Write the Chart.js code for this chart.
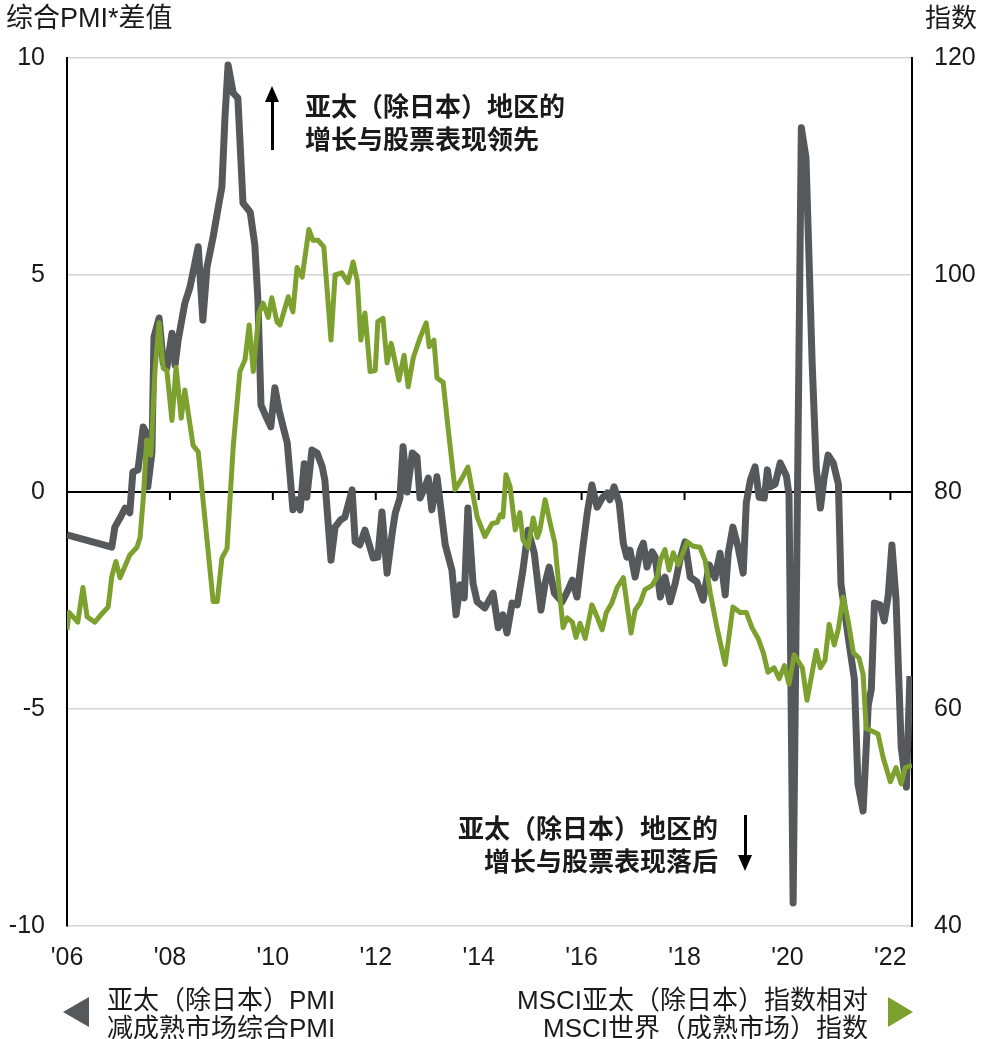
<!DOCTYPE html>
<html lang="zh-CN">
<head>
<meta charset="utf-8">
<title>亚太（除日本）PMI 与 MSCI 相对指数</title>
<script src="https://cdn.jsdelivr.net/npm/chart.js@4.4.1/dist/chart.umd.min.js"></script>
<style>
  html, body { margin: 0; padding: 0; background: #fff; }
  body {
    width: 983px; height: 1039px; position: relative; overflow: hidden;
    font-family: 'Liberation Sans', Arial, 'Noto Sans CJK SC', sans-serif;
    color: #1a1a1a;
  }
  #chart { position: absolute; left: 0; top: 0; }
  .txt { position: absolute; font-size: 26px; line-height: 32px; white-space: nowrap; }
  .note { font-weight: bold; line-height: 33px; }
  .shaft { position: absolute; width: 2.5px; background: #000; }
  .tri { position: absolute; width: 0; height: 0; }
</style>
</head>
<body>
<canvas id="chart" width="983" height="1039"></canvas>

<div class="txt" style="left:6px; top:2px; font-size:27px;">综合PMI*差值</div>
<div class="txt" style="right:6px; top:2px;">指数</div>

<!-- annotations -->
<div class="shaft" style="left:271px; top:100px; height:50px;"></div>
<div class="tri" style="left:265px; top:86px; border-left:7px solid transparent; border-right:7px solid transparent; border-bottom:16px solid #000;"></div>
<div class="txt note" style="left:305px; top:91px;">亚太（除日本）地区的<br>增长与股票表现领先</div>

<div class="shaft" style="left:744px; top:815px; height:42px;"></div>
<div class="tri" style="left:738px; top:855px; border-left:7px solid transparent; border-right:7px solid transparent; border-top:16px solid #000;"></div>
<div class="txt note" style="right:265px; top:813px; text-align:right;">亚太（除日本）地区的<br>增长与股票表现落后</div>

<!-- legend -->
<div class="tri" style="left:63px; top:997px; border-top:15px solid transparent; border-bottom:15px solid transparent; border-right:26px solid #55595c;"></div>
<div class="txt" style="left:107px; top:986px; line-height:28px;">亚太（除日本）PMI<br>减成熟市场综合PMI</div>
<div class="txt" style="right:115px; top:986px; line-height:28px; text-align:right;">MSCI亚太（除日本）指数相对<br>MSCI世界（成熟市场）指数</div>
<div class="tri" style="left:888px; top:997px; border-top:15px solid transparent; border-bottom:15px solid transparent; border-left:25px solid #7da12f;"></div>

<script>
// x ticks (years) and y ticks
const xTicks = [2006, 2008, 2010, 2012, 2014, 2016, 2018, 2020, 2022];
const leftTicks = [-10, -5, 0, 5, 10];
const rightTicks = [40, 60, 80, 100, 120];

// 亚太（除日本）PMI 减成熟市场综合PMI (left axis)
const pmiDates = [
  2006.00, 2006.87, 2006.93, 2007.03, 2007.13, 2007.22, 2007.28, 2007.38, 2007.48, 2007.54,
  2007.57, 2007.65, 2007.69, 2007.79, 2007.87, 2007.94, 2008.04, 2008.10, 2008.16, 2008.29,
  2008.39, 2008.55, 2008.64, 2008.72, 2008.84, 2008.92, 2009.01, 2009.07, 2009.13, 2009.23,
  2009.32, 2009.42, 2009.56, 2009.65, 2009.71, 2009.77, 2009.87, 2009.96, 2010.04, 2010.12,
  2010.20, 2010.28, 2010.33, 2010.39, 2010.47, 2010.53, 2010.61, 2010.66, 2010.76, 2010.86,
  2010.96, 2011.01, 2011.13, 2011.21, 2011.31, 2011.40, 2011.54, 2011.60, 2011.69, 2011.79,
  2011.95, 2012.04, 2012.12, 2012.22, 2012.32, 2012.38, 2012.47, 2012.53, 2012.61, 2012.71,
  2012.80, 2012.86, 2012.96, 2013.02, 2013.09, 2013.19, 2013.35, 2013.48, 2013.56, 2013.64,
  2013.72, 2013.79, 2013.89, 2013.97, 2014.12, 2014.28, 2014.38, 2014.47, 2014.55, 2014.65,
  2014.75, 2014.86, 2014.96, 2015.08, 2015.21, 2015.29, 2015.37, 2015.47, 2015.62, 2015.72,
  2015.82, 2015.91, 2016.01, 2016.11, 2016.20, 2016.30, 2016.40, 2016.50, 2016.55, 2016.63,
  2016.73, 2016.81, 2016.88, 2016.94, 2017.04, 2017.14, 2017.20, 2017.27, 2017.37, 2017.43,
  2017.53, 2017.62, 2017.72, 2017.82, 2017.91, 2018.01, 2018.11, 2018.24, 2018.36, 2018.48,
  2018.59, 2018.69, 2018.79, 2018.85, 2018.94, 2019.04, 2019.14, 2019.20, 2019.28, 2019.37,
  2019.45, 2019.55, 2019.61, 2019.66, 2019.76, 2019.86, 2019.98, 2020.03, 2020.11, 2020.27,
  2020.36, 2020.48, 2020.56, 2020.64, 2020.71, 2020.79, 2020.89, 2020.99, 2021.04, 2021.18,
  2021.30, 2021.37, 2021.47, 2021.57, 2021.63, 2021.69, 2021.80, 2021.88, 2021.96, 2022.03,
  2022.11, 2022.21, 2022.31, 2022.38
];
const pmiValues = [
  -0.99, -1.27, -0.81, -0.60, -0.37, -0.48, 0.46, 0.51, 1.50, 1.36,
  0.12, 0.90, 3.57, 4.01, 2.97, 2.86, 3.66, 2.93, 3.50, 4.35,
  4.72, 5.65, 3.96, 5.18, 5.88, 6.43, 7.03, 8.64, 9.84, 9.19,
  9.08, 6.66, 6.45, 5.69, 4.42, 2.00, 1.73, 1.50, 2.40, 1.89,
  1.50, 1.13, 0.44, -0.41, -0.18, -0.41, 0.65, -0.12, 0.97, 0.90,
  0.58, 0.28, -1.57, -0.81, -0.65, -0.58, 0.05, -1.15, -1.22, -0.88,
  -1.52, -1.50, -0.46, -1.87, -0.94, -0.48, -0.14, 1.04, 0.00, 0.90,
  0.81, -0.14, 0.12, 0.32, -0.41, 0.35, -1.22, -1.80, -2.83, -2.14,
  -2.44, -0.37, -2.10, -2.53, -2.67, -2.33, -3.13, -2.83, -3.25, -2.56,
  -2.60, -1.80, -0.88, -1.41, -2.72, -2.10, -1.73, -2.33, -2.53, -2.30,
  -2.03, -2.42, -1.41, -0.48, 0.16, -0.35, -0.14, -0.02, -0.18, 0.12,
  -0.25, -1.18, -1.50, -1.34, -1.96, -1.34, -1.18, -1.73, -1.38, -1.50,
  -2.42, -1.96, -2.53, -2.10, -1.57, -1.15, -1.96, -2.07, -2.49, -1.68,
  -1.98, -1.41, -2.37, -1.41, -0.81, -1.27, -1.87, -0.25, 0.28, 0.58,
  -0.12, -0.14, 0.51, 0.12, 0.18, 0.67, 0.37, -0.07, -9.47, 8.39,
  7.70, 2.97, 0.55, -0.37, 0.30, 0.85, 0.67, 0.18, -2.12, -3.34,
  -4.31, -6.73, -7.35, -4.91, -4.54, -2.56, -2.60, -2.97, -2.37, -1.22,
  -2.49, -5.88, -6.80, -4.24
];

// MSCI亚太（除日本）指数相对MSCI世界（成熟市场）指数 (right axis)
const msciDates = [
  2006.00, 2006.04, 2006.21, 2006.31, 2006.39, 2006.54, 2006.70, 2006.80, 2006.87, 2006.95,
  2007.03, 2007.22, 2007.36, 2007.42, 2007.48, 2007.55, 2007.63, 2007.71, 2007.79, 2007.87,
  2007.94, 2008.04, 2008.12, 2008.22, 2008.29, 2008.45, 2008.55, 2008.84, 2008.92, 2009.01,
  2009.11, 2009.23, 2009.36, 2009.46, 2009.54, 2009.62, 2009.73, 2009.81, 2009.91, 2009.98,
  2010.08, 2010.14, 2010.30, 2010.39, 2010.47, 2010.57, 2010.70, 2010.78, 2010.88, 2010.99,
  2011.13, 2011.21, 2011.34, 2011.46, 2011.56, 2011.64, 2011.71, 2011.79, 2011.89, 2011.99,
  2012.04, 2012.14, 2012.22, 2012.30, 2012.38, 2012.45, 2012.55, 2012.63, 2012.73, 2012.86,
  2012.98, 2013.04, 2013.13, 2013.19, 2013.31, 2013.41, 2013.54, 2013.68, 2013.79, 2013.97,
  2014.12, 2014.26, 2014.36, 2014.42, 2014.47, 2014.53, 2014.61, 2014.71, 2014.80, 2014.86,
  2014.96, 2015.06, 2015.14, 2015.19, 2015.29, 2015.39, 2015.48, 2015.56, 2015.64, 2015.72,
  2015.82, 2015.89, 2015.97, 2016.07, 2016.20, 2016.30, 2016.40, 2016.48, 2016.59, 2016.69,
  2016.81, 2016.96, 2017.04, 2017.14, 2017.23, 2017.37, 2017.47, 2017.53, 2017.62, 2017.70,
  2017.78, 2017.88, 2018.05, 2018.17, 2018.30, 2018.40, 2018.50, 2018.63, 2018.79, 2018.94,
  2019.08, 2019.20, 2019.31, 2019.43, 2019.53, 2019.62, 2019.74, 2019.84, 2019.94, 2020.03,
  2020.13, 2020.29, 2020.38, 2020.56, 2020.64, 2020.73, 2020.81, 2020.91, 2020.99, 2021.08,
  2021.18, 2021.28, 2021.39, 2021.47, 2021.53, 2021.67, 2021.76, 2021.86, 2022.00, 2022.11,
  2022.21, 2022.29, 2022.42
];
const msciValues = [
  67.3, 68.9, 68.0, 71.2, 68.5, 68.0, 68.9, 69.4, 72.2, 73.6,
  72.1, 74.2, 74.9, 75.8, 79.3, 84.8, 83.4, 91.2, 95.6, 91.4,
  91.2, 86.6, 91.5, 86.8, 89.4, 84.3, 83.7, 69.9, 69.9, 73.9,
  74.8, 84.2, 91.1, 92.2, 95.4, 91.1, 96.5, 97.4, 96.1, 97.9,
  95.7, 95.4, 98.0, 96.6, 100.7, 99.8, 104.2, 103.2, 103.2, 102.6,
  94.0, 100.0, 100.2, 99.3, 101.2, 99.5, 94.0, 96.5, 91.1, 91.2,
  95.7, 96.0, 91.9, 93.7, 91.9, 90.3, 92.6, 89.7, 92.4, 94.2,
  95.6, 93.4, 94.0, 90.5, 90.1, 85.7, 80.2, 81.3, 82.3, 77.7,
  75.9, 77.1, 77.2, 77.9, 77.7, 81.6, 80.5, 76.5, 78.1, 75.6,
  74.9, 77.6, 75.8, 76.5, 79.3, 77.1, 75.3, 71.2, 67.5, 68.4,
  68.0, 66.6, 67.9, 66.5, 69.6, 68.5, 67.3, 68.9, 69.8, 71.2,
  72.1, 67.0, 69.1, 69.8, 71.0, 71.4, 72.2, 73.7, 74.7, 72.8,
  74.4, 73.3, 75.4, 75.0, 74.9, 73.7, 70.7, 67.5, 64.1, 69.4,
  68.9, 68.9, 67.5, 66.5, 65.2, 63.4, 63.8, 62.8, 64.0, 62.3,
  65.0, 63.8, 60.8, 65.4, 63.8, 64.5, 67.8, 65.9, 67.4, 70.3,
  68.1, 65.2, 64.7, 63.2, 58.2, 57.9, 57.7, 55.5, 53.3, 54.6,
  53.1, 54.6, 54.8
];

const GRAY = '#55595c';
const GREEN = '#7da12f';
const FONT = "'Liberation Sans', Arial, sans-serif";

// small ticks hanging under the zero line
const zeroTicks = {
  id: 'zeroTicks',
  beforeDatasetsDraw(chart) {
    const { ctx, scales: { x, y } } = chart;
    const y0 = y.getPixelForValue(0);
    ctx.save();
    ctx.strokeStyle = '#000';
    ctx.lineWidth = 2;
    for (const v of xTicks) {
      const px = x.getPixelForValue(v);
      ctx.beginPath();
      ctx.moveTo(px, y0);
      ctx.lineTo(px, y0 + 8);
      ctx.stroke();
    }
    ctx.restore();
  }
};

new Chart(document.getElementById('chart'), {
  type: 'line',
  data: {
    datasets: [
      {
        label: 'MSCI亚太（除日本）指数相对MSCI世界（成熟市场）指数',
        data: msciDates.map((d, i) => ({ x: d, y: msciValues[i] })),
        yAxisID: 'y1',
        borderColor: GREEN,
        borderWidth: 5,
        pointRadius: 0,
        tension: 0,
        borderJoinStyle: 'round'
      },
      {
        label: '亚太（除日本）PMI减成熟市场综合PMI',
        data: pmiDates.map((d, i) => ({ x: d, y: pmiValues[i] })),
        yAxisID: 'y',
        borderColor: GRAY,
        borderWidth: 7,
        pointRadius: 0,
        tension: 0,
        borderJoinStyle: 'round'
      }
    ]
  },
  options: {
    responsive: false,
    animation: false,
    layout: { padding: { top: 58, left: 0, right: 0, bottom: 63 } },
    plugins: { legend: { display: false }, tooltip: { enabled: false } },
    scales: {
      x: {
        type: 'linear',
        min: 2006,
        max: 2022.42,
        afterBuildTicks: s => { s.ticks = xTicks.map(v => ({ value: v })); },
        afterFit: s => { s.height = 50; },
        grid: { display: false, drawTicks: false },
        border: { display: false },
        ticks: {
          autoSkip: false, maxRotation: 0, padding: 17,
          color: '#1a1a1a', font: { family: FONT, size: 25 },
          callback: v => "'" + String(v).slice(2)
        }
      },
      y: {
        position: 'left',
        min: -10,
        max: 10,
        afterBuildTicks: s => { s.ticks = leftTicks.map(v => ({ value: v })); },
        afterFit: s => { s.width = 67; },
        grid: {
          drawTicks: false,
          color: c => (c.tick && c.tick.value === 0 ? '#000' : '#d4d4d4'),
          lineWidth: c => (c.tick && c.tick.value === 0 ? 2 : 1.5)
        },
        border: { display: true, color: '#000', width: 2 },
        ticks: { padding: 22, color: '#1a1a1a', font: { family: FONT, size: 25 } }
      },
      y1: {
        position: 'right',
        min: 40,
        max: 120,
        afterBuildTicks: s => { s.ticks = rightTicks.map(v => ({ value: v })); },
        afterFit: s => { s.width = 71; },
        grid: { display: false, drawTicks: false },
        border: { display: true, color: '#000', width: 2 },
        ticks: { padding: 22, color: '#1a1a1a', font: { family: FONT, size: 25 } }
      }
    }
  },
  plugins: [zeroTicks]
});
</script>
</body>
</html>
